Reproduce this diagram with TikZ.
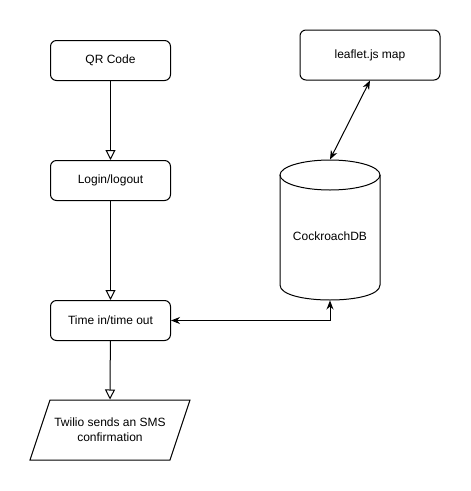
\documentclass[tikz,border=0pt]{standalone}
\usepackage{fontspec}
\setmainfont{Liberation Sans}
\usetikzlibrary{arrows.meta}
\begin{document}
\begin{tikzpicture}[x=1pt,y=-1pt,line width=1pt]
\useasboundingbox (0,0) rectangle (471,491);
\tikzstyle{every node}=[draw,rounded corners=6pt,minimum width=120pt,minimum height=40pt,align=center,font=\fontsize{12}{15}\selectfont];
\tikzstyle{hollow}=[-{Triangle[open,width=10pt,length=10pt]}];
\tikzstyle{both}=[{Stealth[width=7pt,length=9pt]}-{Stealth[width=7pt,length=9pt]}];
\draw (110.5,60.5) node   (q0) {QR Code};
\draw (110.5,180.5) node  (l0) {Login/logout};
\draw (110.5,320.5) node  (s0) {Time in/time out};
\draw (370,55) node[minimum width=140pt,minimum height=50pt] (m0) {leaflet.js map};
\draw (110,430) node[draw=none,minimum width=140pt,minimum height=60pt] (t0) {Twilio sends an SMS\\confirmation};
\draw (330,230) node[draw=none,minimum width=100pt,minimum height=140pt] (d0) {\\[6pt]CockroachDB};

% shapes drawn by hand
\draw (30,460) -- (50,400) -- (190,400) -- (170,460) -- cycle;
\draw (330,175) ellipse [x radius=50, y radius=15];
\draw (280,175) -- (280,285) .. controls (280,305) and (380,305) .. (380,285) -- (380,175);

\draw (q0) edge [hollow] (l0);
\draw (l0) edge [hollow] (s0);
\draw (s0) edge [hollow] (t0.north);
\draw [both] (m0.south) -- (d0.north);
\draw [both] (s0.east) -| (d0.south);
\end{tikzpicture}
\end{document}
